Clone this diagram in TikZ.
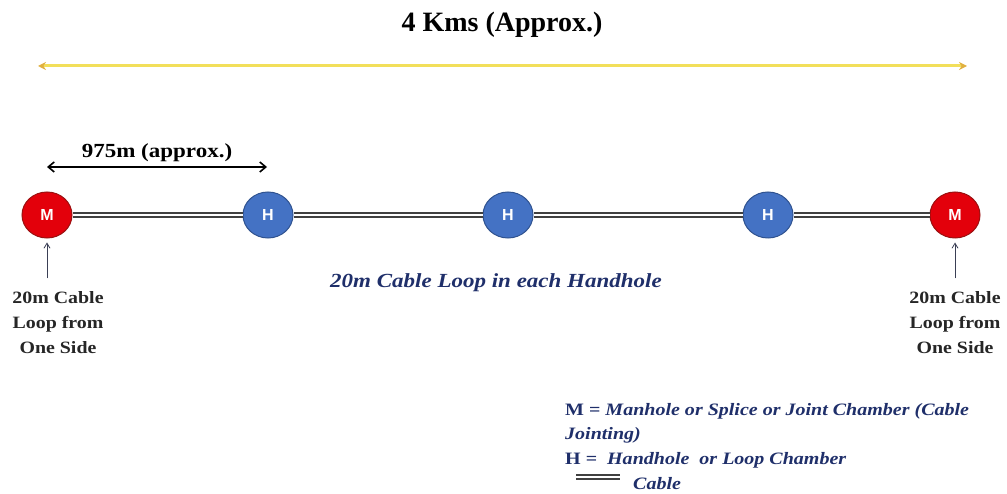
\documentclass[tikz,border=0pt]{standalone}
\usepackage{fontspec}
\setmainfont{Liberation Serif}
\setsansfont{Liberation Sans}
\newfontfamily\wideserif[FakeStretch=1.15]{Liberation Serif}
\usetikzlibrary{arrows.meta,positioning,shapes.geometric}
\definecolor{chamberRed}{HTML}{E3000B}
\definecolor{chamberRedEdge}{HTML}{9A1010}
\definecolor{holeBlue}{HTML}{4472C4}
\definecolor{holeBlueEdge}{HTML}{2F528F}
\definecolor{spanYellow}{HTML}{F2DF5A}
\definecolor{spanTip}{HTML}{E0B040}
\definecolor{cableGrey}{HTML}{404040}
\definecolor{navyText}{HTML}{1F2F6A}
\definecolor{slate}{HTML}{3A3F55}

\begin{document}
\begin{tikzpicture}[
    x=1pt, y=1pt,
    manhole/.style={ellipse, draw=chamberRedEdge, line width=1pt, fill=chamberRed, minimum width=50pt, minimum height=46pt, inner sep=0pt, font=\sffamily\bfseries\fontsize{16}{16}\selectfont\color{white}},
    handhole/.style={ellipse, draw=holeBlueEdge, line width=1pt, fill=holeBlue, minimum width=50pt, minimum height=46pt, inner sep=0pt, font=\sffamily\bfseries\fontsize{16}{16}\selectfont\color{white}},
    cable/.style={draw=cableGrey, line width=2.6pt, double=white, double distance=1.6pt},
    span/.style={draw=spanYellow, line width=3pt, {Stealth[length=8pt,width=8pt,color=spanTip]}-{Stealth[length=8pt,width=8pt,color=spanTip]}},
    measure/.style={draw=black, line width=1.6pt, {Straight Barb[length=6pt,width=10pt]}-{Straight Barb[length=6pt,width=10pt]}},
    pointer/.style={draw=slate, line width=0.8pt, shorten <=10pt, shorten >=4pt, -{Straight Barb[length=5pt,width=6pt]}},
    sidenote/.style={align=center, font=\wideserif\bfseries\fontsize{17.3}{25}\selectfont\color{black!85}},
    legend/.style={align=left, inner sep=0pt, font=\wideserif\bfseries\fontsize{17.4}{24.5}\selectfont\color{navyText}}
  ]
    \useasboundingbox (0,0) rectangle (1007,-494);

    % Title and span
    \node[font=\bfseries\fontsize{28}{28}\selectfont] (title) at (502,-25) {4 Kms (Approx.)};
    \coordinate (spanL) at (38,-66);
    \coordinate (spanR) at (967,-66);
    \draw[span] (spanL) -- (spanR);

    % Chambers
    \node[manhole] (m1) at (47,-215) {M};
    \node[handhole] (h1) at (268,-215) {H};
    \node[handhole] (h2) at (508,-215) {H};
    \node[handhole] (h3) at (768,-215) {H};
    \node[manhole] (m2) at (955,-215) {M};

    % Cable
    \draw[cable] (m1) -- (h1);
    \draw[cable] (h1) -- (h2);
    \draw[cable] (h2) -- (h3);
    \draw[cable] (h3) -- (m2);

    % Spacing
    \coordinate (gapL) at (47,-167);
    \coordinate (gapR) at (267,-167);
    \draw[measure] (gapL) -- (gapR);
    \node[font=\wideserif\bfseries\fontsize{20}{20}\selectfont] (gap) at (157,-153) {975m (approx.)};

    % Loop notes
    \node[sidenote] (noteL) at (58,-323) {20m Cable\\Loop from\\One Side};
    \node[sidenote] (noteR) at (955,-323) {20m Cable\\Loop from\\One Side};
    \draw[pointer] (noteL.north -| m1) -- (m1);
    \draw[pointer] (noteR.north -| m2) -- (m2);
    \node[font=\wideserif\bfseries\itshape\fontsize{20}{20}\selectfont\color{navyText}] (loop) at (496,-283) {20m Cable Loop in each Handhole};

    % Legend
    \node[legend, anchor=north west] (key) at (565,-403) {M = \textit{Manhole or Splice or Joint Chamber (Cable}\\\textit{Jointing)}\\H = \ \textit{Handhole\ \ or Loop Chamber}};
    \coordinate (keyL) at (576,-477);
    \coordinate (keyR) at (620,-477);
    \draw[cable] (keyL) -- (keyR);
    \node[legend, anchor=west] (keycable) at (633,-484) {\textit{Cable}};
  \end{tikzpicture}
\end{document}
